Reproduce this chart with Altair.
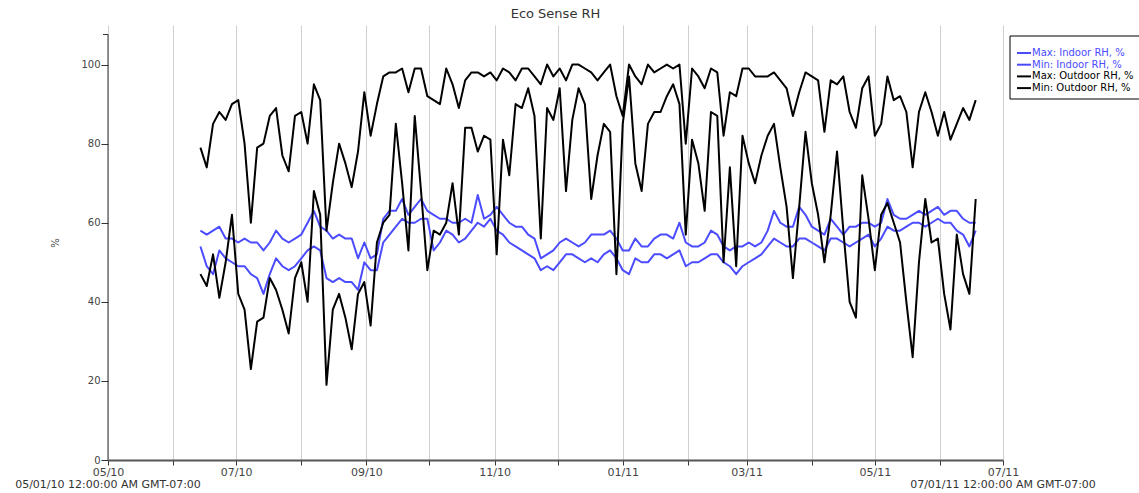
import altair as alt
import pandas as pd

# ---------------- data ----------------
series_names = ["Max: Indoor RH, %", "Min: Indoor RH, %", "Max: Outdoor RH, %", "Min: Outdoor RH, %"]
series_colors = ["#4b4bff", "#4b4bff", "#000000", "#000000"]

start_date = "2010-06-14"
step_days = 3

indoor_max = [58, 57, 58, 59, 56, 56, 55, 56, 55, 55, 53, 55, 58, 56, 55, 56, 57, 60, 63, 59, 58,
              56, 57, 56, 56, 51, 55, 51, 52, 61, 63, 63, 66, 62, 64, 66, 63, 62, 61, 61, 60,
              60,
              61, 60, 67, 61, 62, 64, 62, 60, 59, 59, 57, 56, 51, 52, 53, 55, 56, 55, 54, 55,
              57,
              57, 57, 58, 56, 53, 53, 56, 54, 54, 56, 57, 57, 56, 60, 55, 54, 54, 55, 58,
              57,
              54, 53, 54, 54, 55, 54, 55, 58, 63, 60, 59, 59, 64, 62, 59, 58, 57, 61, 59, 57,
              59,
              59, 60, 60, 59, 60, 66, 62, 61, 61, 62, 63, 62, 63, 64, 62, 63, 63, 61, 60, 60]

indoor_min = [54, 49, 47, 53, 51, 50, 49, 49, 47, 46, 42, 47, 51, 49, 48, 49, 51, 53, 54, 53, 46,
              45, 46, 45, 45, 43, 50, 48, 48, 55, 57, 59, 61, 60, 60, 61, 61, 53, 55, 58, 57,
              55,
              56, 58, 60, 59, 61, 58, 57, 55, 54, 53, 52, 51, 48, 49, 48, 50, 52, 52, 51, 50,
              51,
              50, 52, 53, 51, 48, 47, 51, 50, 50, 52, 52, 51, 52, 53, 49, 50, 50, 51, 52,
              52,
              50, 49, 47, 49, 50, 51, 52, 54, 56, 55, 54, 54, 56, 56, 55, 54, 53, 56, 56, 55,
              54,
              55, 56, 57, 54, 56, 59, 58, 58, 59, 60, 60, 59, 60, 61, 60, 60, 58, 57, 54, 58]

outdoor_max = [79, 74, 85, 88, 86, 90, 91, 80, 60, 79, 80, 87, 89, 77, 73, 87, 88, 80, 95, 91, 58,
               70, 80, 75, 69, 78, 93, 82, 90, 97, 98, 98, 99, 93, 99, 99, 92, 91, 90, 99, 95,
               89,
               96, 98, 98, 97, 98, 96, 99, 98, 96, 99, 99, 97, 95, 100, 97, 99, 96, 100, 100, 99,
               98,
               96, 98, 100, 92, 87, 100, 97, 95, 100, 98, 99, 100, 99, 100, 80, 99, 97, 94, 99,
               98,
               82, 93, 92, 99, 99, 97, 97, 97, 98, 96, 94, 87, 93, 98, 97, 96, 83, 96, 95, 97,
               88,
               84, 94, 97, 82, 85, 97, 91, 92, 88, 74, 88, 93, 88, 82, 88, 81, 85, 89, 86, 91]

outdoor_min = [47, 44, 52, 41, 50, 62, 42, 38, 23, 35, 36, 46, 43, 38, 32, 46, 50, 40, 68, 62, 19,
               38, 42, 36, 28, 42, 45, 34, 55, 60, 62, 85, 70, 53, 87, 68, 48, 58, 57, 60, 70,
               57,
               84, 84, 78, 82, 81, 52, 81, 72, 90, 89, 94, 87, 56, 89, 86, 94, 68, 86, 94, 90,
               66,
               77, 85, 83, 47, 85, 97, 75, 68, 85, 88, 88, 92, 95, 90, 57, 81, 75, 63, 88,
               87,
               50, 74, 49, 82, 75, 70, 77, 82, 85, 74, 64, 46, 64, 83, 70, 62, 50, 62, 78, 58,
               40,
               36, 72, 61, 48, 62, 65, 60, 55, 40, 26, 50, 66, 55, 56, 42, 33, 57, 47, 42, 66]

month_ticks = ["2010-05", "2010-06", "2010-07", "2010-08", "2010-09", "2010-10", "2010-11",
               "2010-12", "2011-01", "2011-02", "2011-03", "2011-04", "2011-05", "2011-06", "2011-07"]
y_ticks = [0, 20, 40, 60, 80, 100]
y_axis_top = 107.6
x_start, x_end = "2010-05-01", "2011-07-01"
corner_labels = ["05/01/10 12:00:00 AM GMT-07:00", "07/01/11 12:00:00 AM GMT-07:00"]
title_text = "Eco Sense RH"

FONT = "DejaVu Sans"

# ---------------- tables ----------------
dates = pd.date_range(start_date, periods=len(indoor_max), freq=f"{step_days}D").strftime("%Y-%m-%d")
all_values = [indoor_max, indoor_min, outdoor_max, outdoor_min]


def dt(s):
    y, m = s.split("-")[:2]
    return alt.DateTime(year=int(y), month=int(m), date=1, utc=True)


x_scale = alt.Scale(type="utc", domain=[dt(x_start), dt(x_end)])
y_scale = alt.Scale(domain=[0, 110], nice=False, zero=True)

x_axis = alt.Axis(
    values=[dt(m) for m in month_ticks],
    labelExpr="utcmonth(datum.value) % 2 == 0 ? utcFormat(datum.value, '%m/%y') : ''",
    grid=True, gridColor="#d0d0d0", gridWidth=1,
    domainColor="#555555", domainWidth=2,
    tickColor="#333333", tickSize=5, tickWidth=1,
    labelFont=FONT, labelFontSize=11, labelColor="#444444", labelPadding=1,
    labelFlush=False, labelOverlap=False, title=None,
)
y_axis = alt.Axis(
    values=y_ticks, grid=False, domain=False,
    tickColor="#333333", tickSize=7, tickWidth=1,
    labelFont=FONT, labelFontSize=10, labelColor="#444444", labelPadding=1,
    title="%", titleFont=FONT, titleFontSize=10, titleFontWeight="normal",
    titleColor="#444444", titlePadding=20,
)

layers = []
for name, color, vals in zip(series_names, series_colors, all_values):
    df = pd.DataFrame({"date": dates, "value": vals, "series": name})
    layers.append(
        alt.Chart(df).mark_line(color=color, strokeWidth=2, strokeJoin="round", clip=True).encode(
            x=alt.X("date:T", scale=x_scale, axis=x_axis),
            y=alt.Y("value:Q", scale=y_scale, axis=y_axis),
            detail="series:N",
        )
    )

# y axis line (ends below plot top) and its top tick
axis_df = pd.DataFrame({"value": [0], "hi": [y_axis_top]})
y_line = alt.Chart(axis_df).mark_rule(color="#333333", strokeWidth=1).encode(
    x=alt.value(0), y=alt.Y("value:Q", scale=y_scale, axis=y_axis), y2="hi:Q"
)
y_top_tick = alt.Chart(axis_df).mark_rule(color="#333333", strokeWidth=1).encode(
    x=alt.value(-5), x2=alt.value(0), y=alt.Y("hi:Q", scale=y_scale, axis=y_axis)
)

# corner date labels
corner_df = pd.DataFrame({"date": [x_start, x_end], "label": corner_labels})
corner = alt.Chart(corner_df).mark_text(font=FONT, fontSize=11, color="#333333", align="center",
                                        baseline="middle").encode(
    x=alt.X("date:T", scale=x_scale, axis=x_axis), y=alt.value(460), text="label:N"
)

# manual legend
leg_box = alt.Chart(pd.DataFrame({"k": [0]})).mark_rect(fill="white", stroke="#000000", strokeWidth=1).encode(
    x=alt.value(902), x2=alt.value(1060), y=alt.value(11), y2=alt.value(74)
)
leg_layers = []
for row, (name, color) in enumerate(zip(series_names, series_colors)):
    ldf = pd.DataFrame({"series": [name]})
    ypx = 28 + row * 11.7
    leg_layers.append(alt.Chart(ldf).mark_rule(strokeWidth=2, color=color).encode(
        x=alt.value(909), x2=alt.value(923), y=alt.value(ypx)))
    leg_layers.append(alt.Chart(ldf).mark_text(font=FONT, fontSize=10, align="left", baseline="middle",
                                               color=color).encode(
        x=alt.value(924), y=alt.value(ypx), text="series:N"))

chart = alt.layer(*layers, y_line, y_top_tick, corner, leg_box, *leg_layers).properties(
    width=895, height=435,
    title=alt.Title(title_text, font=FONT, fontSize=13, fontWeight="normal", color="#333333",
                    anchor="middle", offset=4),
    autosize=alt.AutoSizeParams(type="none"),
    padding={"left": 108, "top": 25, "right": 136, "bottom": 33},
).configure_view(stroke="transparent")

chart.save("out.html", embed_options={"renderer": "svg", "actions": False})
